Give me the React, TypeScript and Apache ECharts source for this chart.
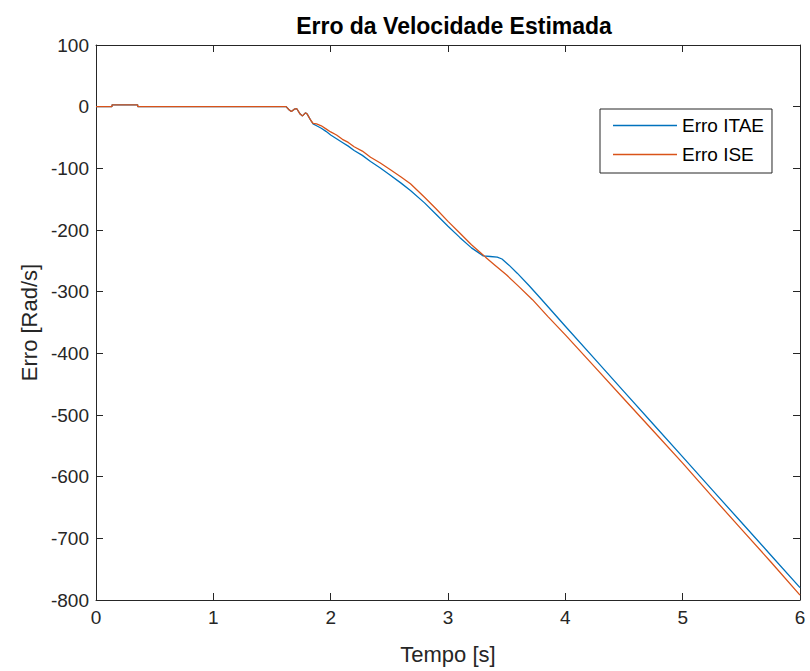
import React, { useEffect, useRef } from "react";
import * as echarts from "echarts";

const titleText = "Erro da Velocidade Estimada";
const xName = "Tempo [s]";
const yName = "Erro [Rad/s]";
const seriesNames = ["Erro ITAE", "Erro ISE"];

// Shared start (both controllers overlap)
const timeStart = [0, 0.136, 0.137, 0.355, 0.356, 1.62, 1.645, 1.665, 1.69, 1.71, 1.74, 1.76, 1.785, 1.8, 1.83];
const errStart = [0, 0, 3, 3, 0, 0, -5, -8, -4, -3, -12, -15, -10, -12, -22];

const timeITAE = [1.85, 1.88, 1.92, 1.96, 2.0, 2.05, 2.1, 2.15, 2.2, 2.27, 2.34, 2.42, 2.5, 2.6, 2.68, 2.8, 2.9, 3.0, 3.1, 3.2, 3.3, 3.36, 3.42, 3.46, 3.52, 3.59, 3.69, 3.79, 4.0, 4.25, 4.5, 4.75, 5.0, 5.25, 5.5, 5.75, 6.0];
const errITAE = [-28, -31, -35, -40, -46, -52, -58, -64, -71, -79, -89, -99, -110, -124, -136, -156, -175, -194, -212, -229, -242, -243, -244, -247, -257, -270, -290, -311, -356, -409, -462, -515, -568, -621, -674, -727, -780];

const timeISE = [1.85, 1.88, 1.92, 1.96, 2.0, 2.05, 2.1, 2.15, 2.2, 2.27, 2.34, 2.42, 2.5, 2.6, 2.68, 2.8, 2.9, 3.0, 3.1, 3.2, 3.32, 3.4, 3.5, 3.6, 3.72, 3.85, 4.0, 4.25, 4.5, 4.75, 5.0, 5.25, 5.5, 5.75, 6.0];
const errISE = [-27, -28, -31, -36, -41, -46, -53, -58, -65, -72, -82, -91, -101, -114, -125, -147, -166, -186, -205, -224, -244, -257, -273, -291, -313, -340, -370, -422, -474, -526, -578, -632, -685, -738, -792];

const xTicks = { min: 0, max: 6, interval: 1 };
const yTicks = { min: -800, max: 100, interval: 100 };

const colors = ["#0072BD", "#D95319"];
const axisColor = "#262626";
const font = "'Liberation Sans', Arial, Helvetica, sans-serif";

function build(ts: number[], vs: number[]) {
  const out: number[][] = [];
  timeStart.forEach((t, i) => out.push([t, errStart[i]]));
  ts.forEach((t, i) => out.push([t, vs[i]]));
  return out;
}

export default function App() {
  const ref = useRef<HTMLDivElement>(null);
  useEffect(() => {
    if (!ref.current) return;
    const chart = echarts.init(ref.current, null, { renderer: "svg" });
    const axisCommon = {
      axisLine: { show: true, onZero: false, lineStyle: { color: axisColor, width: 1 } },
      axisTick: { show: true, inside: true, length: 7, lineStyle: { color: axisColor } },
      splitLine: { show: false },
    };
    chart.setOption({
      animation: false,
      backgroundColor: "#ffffff",
      title: {
        text: titleText,
        left: 449,
        top: 9,
        textAlign: "center",
        textStyle: { fontFamily: font, fontSize: 23, fontWeight: "bold", color: "#000" },
      },
      grid: { left: 96, right: 10, top: 45, bottom: 71, containLabel: false },
      legend: {
        orient: "vertical",
        left: 600,
        top: 109,
        padding: [7, 8, 9, 13],
        icon: "rect",
        itemWidth: 64,
        itemHeight: 1.6,
        itemGap: 10,
        itemTextGap: 8,
        borderColor: axisColor,
        borderWidth: 1,
        backgroundColor: "#fff",
        borderRadius: 0,
        textStyle: { fontFamily: font, fontSize: 19, color: "#000", lineHeight: 16 },
        data: seriesNames,
      },
      xAxis: [
        {
          type: "value",
          position: "bottom",
          ...xTicks,
          ...axisCommon,
          name: xName,
          nameLocation: "middle",
          nameGap: 43,
          nameTextStyle: { fontFamily: font, fontSize: 22, color: axisColor },
          axisLabel: { fontFamily: font, fontSize: 19, color: axisColor, margin: 8 },
        },
        {
          type: "value",
          position: "top",
          ...xTicks,
          ...axisCommon,
          axisLabel: { show: false },
        },
      ],
      yAxis: [
        {
          type: "value",
          position: "left",
          ...yTicks,
          ...axisCommon,
          name: yName,
          nameLocation: "middle",
          nameGap: 55,
          nameTextStyle: { fontFamily: font, fontSize: 22, color: axisColor },
          axisLabel: { fontFamily: font, fontSize: 19, color: axisColor, margin: 7 },
        },
        {
          type: "value",
          position: "right",
          ...yTicks,
          ...axisCommon,
          axisLabel: { show: false },
        },
      ],
      series: [
        {
          name: seriesNames[0],
          type: "line",
          data: build(timeITAE, errITAE),
          showSymbol: false,
          symbol: "none",
          lineStyle: { color: colors[0], width: 1.3 },
          itemStyle: { color: colors[0] },
        },
        {
          name: seriesNames[1],
          type: "line",
          data: build(timeISE, errISE),
          showSymbol: false,
          symbol: "none",
          lineStyle: { color: colors[1], width: 1.3 },
          itemStyle: { color: colors[1] },
        },
      ],
    });
    return () => chart.dispose();
  }, []);
  return (
    <div
      ref={ref}
      style={{ position: "fixed", left: 0, top: 0, width: 810, height: 671, background: "#fff" }}
    />
  );
}
